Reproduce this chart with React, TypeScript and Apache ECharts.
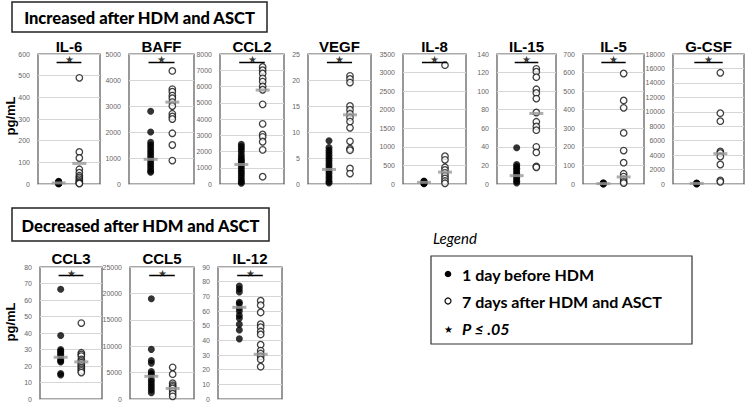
import React, { useEffect, useRef } from "react";
import * as echarts from "echarts";

// ---- Data (pg/mL) ----
const panelNames = ["IL-6", "BAFF", "CCL2", "VEGF", "IL-8", "IL-15", "IL-5", "G-CSF", "CCL3", "CCL5", "IL-12"];

const il6Before = [12, 10, 9, 8, 7, 6, 5, 4, 3, 2, 2, 1, 1];
const il6After = [490, 148, 120, 68, 52, 38, 30, 22, 14, 8, 4, 2];
const il6Means = [5, 95];

const baffBefore = [2800, 2000, 1600, 1500, 1400, 1300, 1200, 1100, 1000, 900, 800, 700, 600, 500, 450];
const baffAfter = [4350, 3650, 3550, 3400, 3300, 3150, 3000, 2700, 2600, 2500, 1950, 1500, 900];
const baffMeans = [950, 3150];

const ccl2Before = [2450, 2300, 2150, 2000, 1800, 1650, 1500, 1400, 1300, 1150, 1000, 850, 700, 550, 400, 250, 120, 50];
const ccl2After = [7200, 7000, 6800, 6500, 6300, 6000, 5800, 4900, 3700, 3050, 2900, 2600, 2100, 450];
const ccl2Means = [1200, 5780];

const vegfBefore = [8.3, 7.0, 6.5, 6.0, 5.5, 5.0, 4.5, 4.0, 3.5, 3.0, 2.5, 2.0, 1.5, 1.0, 0.5, 0.2];
const vegfAfter = [20.8, 20.2, 19.5, 15.0, 14.3, 13.5, 12.8, 12.0, 10.8, 8.2, 6.8, 6.5, 3.0, 2.0];
const vegfMeans = [2.8, 13.3];

const il8Before = [80, 65, 55, 45, 35, 25, 15, 8];
const il8After = [3200, 750, 650, 450, 380, 300, 220, 150, 80, 20];
const il8Means = [45, 320];

const il15Before = [39, 21, 19, 17, 15, 13, 11, 9, 7, 5, 3, 1];
const il15After = [124, 121, 115, 102, 98, 92, 77, 67, 62, 58, 40, 34, 19, 18];
const il15Means = [9, 76];

const il5Before = [6, 4, 3, 2, 1, 0];
const il5After = [595, 450, 410, 275, 180, 115, 55, 40, 25, 12, 5];
const il5Means = [2, 38];

const gcsfBefore = [150, 100, 60, 30, 10];
const gcsfAfter = [15400, 9800, 8700, 4500, 4300, 3800, 2700, 500, 300];
const gcsfMeans = [80, 4200];

const ccl3Before = [66.5, 38.5, 30, 29, 28, 27, 26, 24, 23, 22.5, 15.5, 14.5];
const ccl3After = [46, 28, 27, 26, 24, 23, 22, 21, 20, 19, 18, 17, 16];
const ccl3Means = [25.3, 22.5];

const ccl5Before = [19000, 9400, 7300, 6800, 5200, 4800, 4500, 3700, 3200, 2700, 2200, 1700, 1200];
const ccl5After = [6000, 4700, 3000, 2600, 2300, 2000, 1500, 1000, 500];
const ccl5Means = [4300, 2000];

const il12Before = [77, 75, 73, 66, 65, 62, 60, 57, 55, 51, 47, 41];
const il12After = [67, 64, 59, 51, 49, 46, 44, 37, 33, 31, 29, 27, 22];
const il12Means = [62.5, 30.5];

const befores = [il6Before, baffBefore, ccl2Before, vegfBefore, il8Before, il15Before, il5Before, gcsfBefore, ccl3Before, ccl5Before, il12Before];
const afters = [il6After, baffAfter, ccl2After, vegfAfter, il8After, il15After, il5After, gcsfAfter, ccl3After, ccl5After, il12After];
const means = [il6Means, baffMeans, ccl2Means, vegfMeans, il8Means, il15Means, il5Means, gcsfMeans, ccl3Means, ccl5Means, il12Means];

// axis maxima and tick intervals
const axisMax = [600, 5000, 8000, 25, 3500, 140, 700, 18000, 80, 25000, 90];
const axisInterval = [100, 1000, 1000, 5, 500, 20, 100, 2000, 10, 5000, 10];

// ---- Layout (pixels) ----
const boxLeft = [38, 129, 220, 308, 403, 497, 583, 673, 40, 130, 218];
const boxWidth = [62, 65, 64, 63, 63, 59, 61, 71, 62, 64, 64];
const rowTop = [54, 267];
const rowHeight = [130, 132];
const titleY = [46, 258];

const TITLE_FONT = "'Liberation Sans', Arial, sans-serif";
const CAL_FONT = "Lato, 'Open Sans', sans-serif";

export default function App() {
  const ref = useRef<HTMLDivElement>(null);

  useEffect(() => {
    if (!ref.current) return;
    const chart = echarts.init(ref.current, undefined, { renderer: "svg" });

    const grids: any[] = [];
    const xAxes: any[] = [];
    const yAxes: any[] = [];
    const series: any[] = [];
    const graphics: any[] = [];

    panelNames.forEach((name, i) => {
      const row = i < 8 ? 0 : 1;
      grids.push({
        left: boxLeft[i],
        top: rowTop[row],
        width: boxWidth[i],
        height: rowHeight[row],
        show: true,
        borderColor: "#555",
        borderWidth: 1.2,
        backgroundColor: "transparent",
      });
      xAxes.push({ gridIndex: i, type: "value", min: 0, max: 3, show: false });
      yAxes.push({
        gridIndex: i,
        type: "value",
        min: 0,
        max: axisMax[i],
        interval: axisInterval[i],
        axisLine: { show: false },
        axisTick: { show: false },
        axisLabel: {
          fontSize: 7,
          color: "#666",
          margin: 8,
          fontFamily: TITLE_FONT,
          formatter: (v: number) => String(v),
        },
        splitLine: { lineStyle: { color: "#d6d6d6", width: 1 } },
      });
      const sigY = axisMax[i] * 0.935;
      series.push(
        {
          type: "scatter",
          xAxisIndex: i,
          yAxisIndex: i,
          data: befores[i].map((v) => [1, v]),
          symbol: "circle",
          symbolSize: 7,
          itemStyle: { color: "#000" },
          z: 2,
        },
        {
          type: "scatter",
          xAxisIndex: i,
          yAxisIndex: i,
          data: afters[i].map((v) => [2, v]),
          symbol: "circle",
          symbolSize: 6.5,
          itemStyle: { color: "#fff", borderColor: "#111", borderWidth: 1.3 },
          z: 2,
        },
        {
          type: "scatter",
          xAxisIndex: i,
          yAxisIndex: i,
          data: [[1, means[i][0]], [2, means[i][1]]],
          symbol: "rect",
          symbolSize: [14, 3],
          itemStyle: { color: "#9a9a9a" },
          z: 5,
        },
        {
          type: "line",
          xAxisIndex: i,
          yAxisIndex: i,
          data: [[0.9, sigY], [2.1, sigY]],
          symbol: "none",
          lineStyle: { color: "#000", width: 1.5 },
          z: 4,
        },
        {
          type: "scatter",
          xAxisIndex: i,
          yAxisIndex: i,
          data: [[1.5, sigY]],
          symbolSize: 1,
          itemStyle: { color: "rgba(0,0,0,0)" },
          label: {
            show: true,
            position: "top",
            distance: -3,
            formatter: "★",
            fontSize: 10,
            color: "#000",
          },
          z: 4,
        }
      );
      graphics.push({
        type: "text",
        x: boxLeft[i] + boxWidth[i] / 2,
        y: titleY[row],
        style: {
          text: name,
          fontSize: 15,
          fontWeight: "bold",
          fontFamily: TITLE_FONT,
          fill: "#000",
          textAlign: "center",
          align: "center",
          textVerticalAlign: "middle",
          verticalAlign: "middle",
        },
      });
    });

    // y-axis unit labels
    [116, 322].forEach((y) => {
      graphics.push({
        type: "text",
        x: 10,
        y,
        rotation: Math.PI / 2,
        style: {
          text: "pg/mL",
          fontSize: 13,
          fontWeight: "bold",
          fontFamily: TITLE_FONT,
          fill: "#000",
          textAlign: "center",
          align: "center",
          textVerticalAlign: "middle",
          verticalAlign: "middle",
        },
      });
    });

    // banners
    const banners = [
      { text: "Increased after HDM and ASCT", x: 12, y: 2, w: 255, h: 30 },
      { text: "Decreased after HDM and ASCT", x: 12, y: 208, w: 257, h: 33 },
    ];
    banners.forEach((b) => {
      graphics.push({
        type: "rect",
        shape: { x: b.x, y: b.y, width: b.w, height: b.h },
        style: { fill: "#fff", stroke: "#222", lineWidth: 1.5 },
      });
      graphics.push({
        type: "text",
        x: b.x + b.w / 2,
        y: b.y + b.h / 2 + 1,
        style: {
          text: b.text,
          fontSize: 16.5,
          fontWeight: 900,
          fontFamily: CAL_FONT,
          fill: "#000",
          textAlign: "center",
          align: "center",
          textVerticalAlign: "middle",
          verticalAlign: "middle",
        },
      });
    });

    // legend
    const legText = (text: string, x: number, y: number, extra: any = {}) => ({
      type: "text",
      x,
      y,
      style: {
        text,
        fontSize: 16,
        fontWeight: "bold",
        fontFamily: CAL_FONT,
        fill: "#000",
        textAlign: "left",
        align: "left",
        textVerticalAlign: "middle",
        verticalAlign: "middle",
        ...extra,
      },
    });
    graphics.push(legText("Legend", 433, 238, { fontStyle: "italic", fontWeight: "normal", fontSize: 15 }));
    graphics.push({
      type: "rect",
      shape: { x: 431, y: 256, width: 261, height: 88 },
      style: { fill: "none", stroke: "#333", lineWidth: 1.2 },
    });
    graphics.push({ type: "circle", shape: { cx: 448, cy: 274, r: 3.3 }, style: { fill: "#000" } });
    graphics.push({
      type: "circle",
      shape: { cx: 448, cy: 301, r: 3 },
      style: { fill: "#fff", stroke: "#000", lineWidth: 1.2 },
    });
    graphics.push({
      type: "text",
      x: 448,
      y: 329,
      style: {
        text: "★",
        fontSize: 10,
        fill: "#000",
        textAlign: "center",
        align: "center",
        textVerticalAlign: "middle",
        verticalAlign: "middle",
      },
    });
    graphics.push(legText("1 day before HDM", 462, 274));
    graphics.push(legText("7 days after HDM and ASCT", 462, 301));
    graphics.push(legText("P ≤ .05", 462, 328, { fontStyle: "italic" }));

    chart.setOption({
      animation: false,
      backgroundColor: "#fff",
      grid: grids,
      xAxis: xAxes,
      yAxis: yAxes,
      series,
      graphic: graphics,
    });

    return () => chart.dispose();
  }, []);

  return (
    <div
      ref={ref}
      style={{ position: "fixed", left: 0, top: 0, width: 747, height: 414, background: "#fff" }}
    />
  );
}
